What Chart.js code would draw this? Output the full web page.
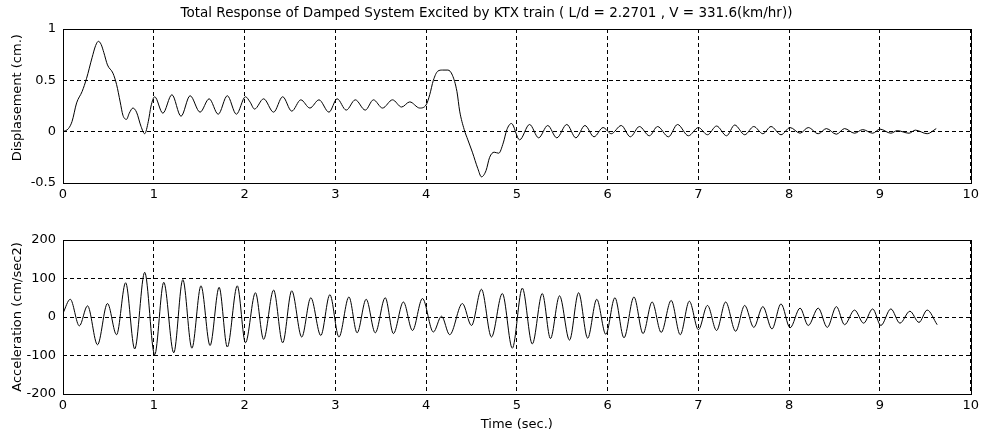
<!DOCTYPE html>
<html>
<head>
<meta charset="utf-8">
<title>KTX train response</title>
<script src="https://cdn.jsdelivr.net/npm/chart.js@4.4.0/dist/chart.umd.min.js"></script>
<style>
	body { margin: 0; background: #fff; }
	#wrap { position: relative; width: 983px; height: 438px; }
	canvas { position: absolute; left: 0; }
	#chart-disp { top: 0; }
	#chart-acc { top: 212px; }
</style>
</head>
<body>
<div id="wrap">
	<canvas id="chart-disp" width="983" height="212"></canvas>
	<canvas id="chart-acc" width="983" height="226"></canvas>
</div>
<script>
// displacement trace (sec, cm)
var dispTime = [
	0.00, 0.06, 0.10, 0.15, 0.21, 0.26, 0.32, 0.36, 0.39, 0.42, 0.45, 0.49, 0.55, 0.59, 0.63, 0.66,
	0.70, 0.73, 0.77, 0.81, 0.86, 0.90, 0.94, 0.97, 1.01, 1.10, 1.20, 1.30, 1.40, 1.51, 1.61, 1.71,
	1.81, 1.91, 2.01, 2.06, 2.11, 2.21, 2.32, 2.42, 2.52, 2.62, 2.72, 2.82, 2.93, 3.02, 3.12, 3.22,
	3.33, 3.42, 3.52, 3.63, 3.73, 3.82, 3.93, 4.00, 4.04, 4.08, 4.13, 4.18, 4.24, 4.29, 4.34, 4.37,
	4.42, 4.46, 4.51, 4.57, 4.61, 4.66, 4.70, 4.75, 4.80, 4.85, 4.89, 4.94, 5.03, 5.14, 5.24, 5.34,
	5.44, 5.55, 5.65, 5.75, 5.85, 5.95, 6.04, 6.15, 6.25, 6.35, 6.46, 6.55, 6.67, 6.77, 6.89, 7.00,
	7.10, 7.20, 7.31, 7.40, 7.51, 7.61, 7.71, 7.80, 7.91, 8.01, 8.12, 8.21, 8.32, 8.41, 8.52, 8.61,
	8.72, 8.81, 8.92, 9.00, 9.12, 9.19, 9.32, 9.39, 9.52, 9.62
];
var dispCm = [
	0.00, 0.03, 0.10, 0.28, 0.39, 0.52, 0.72, 0.84, 0.88, 0.85, 0.77, 0.65, 0.57, 0.46, 0.29, 0.16,
	0.12, 0.18, 0.23, 0.19, 0.05, -0.02, 0.10, 0.25, 0.34, 0.18, 0.36, 0.15, 0.35, 0.19, 0.32, 0.17,
	0.35, 0.17, 0.34, 0.29, 0.22, 0.32, 0.19, 0.34, 0.20, 0.31, 0.23, 0.31, 0.19, 0.32, 0.21, 0.31,
	0.21, 0.31, 0.23, 0.31, 0.24, 0.29, 0.23, 0.26, 0.36, 0.50, 0.59, 0.60, 0.60, 0.55, 0.39, 0.20,
	0.02, -0.08, -0.20, -0.36, -0.44, -0.38, -0.25, -0.20, -0.21, -0.11, 0.02, 0.08, -0.08, 0.07, -0.06, 0.06,
	-0.06, 0.07, -0.06, 0.06, -0.05, 0.04, -0.02, 0.06, -0.05, 0.05, -0.04, 0.05, -0.05, 0.07, -0.04, 0.04,
	-0.03, 0.055, -0.04, 0.065, -0.03, 0.05, -0.02, 0.05, -0.03, 0.04, -0.015, 0.04, -0.02, 0.03, -0.025, 0.03,
	-0.015, 0.02, -0.015, 0.025, -0.015, 0.01, -0.015, 0.015, -0.02, 0.03
];

// acceleration trace (sec, cm/sec2)
var accTime = [
	0.00, 0.08, 0.18, 0.27, 0.38, 0.49, 0.59, 0.69, 0.79, 0.90, 1.01, 1.11, 1.22, 1.32, 1.42, 1.52,
	1.62, 1.72, 1.81, 1.92, 2.01, 2.12, 2.21, 2.32, 2.42, 2.52, 2.63, 2.73, 2.84, 2.94, 3.04, 3.15,
	3.24, 3.34, 3.44, 3.55, 3.64, 3.75, 3.85, 3.96, 4.08, 4.17, 4.26, 4.40, 4.50, 4.61, 4.72, 4.84,
	4.95, 5.06, 5.17, 5.28, 5.37, 5.47, 5.58, 5.68, 5.78, 5.88, 5.98, 6.08, 6.18, 6.29, 6.39, 6.49,
	6.59, 6.70, 6.80, 6.90, 7.00, 7.10, 7.20, 7.30, 7.41, 7.51, 7.61, 7.71, 7.81, 7.91, 8.01, 8.12,
	8.21, 8.32, 8.42, 8.52, 8.61, 8.72, 8.82, 8.92, 9.01, 9.12, 9.22, 9.33, 9.43, 9.52, 9.63
];
var accCmSec2 = [
	10, 46, -23, 29, -72, 35, -46, 89, -83, 116, -98, 90, -93, 97, -81, 81,
	-74, 77, -78, 81, -67, 63, -58, 70, -67, 68, -52, 50, -48, 58, -52, 52,
	-41, 46, -41, 50, -43, 39, -35, 48, -39, 2, -46, 35, -22, 72, -52, 61,
	-81, 75, -70, 61, -56, 55, -60, 63, -55, 46, -45, 50, -54, 52, -43, 39,
	-40, 43, -46, 41, -33, 30, -35, 39, -37, 30, -27, 27, -31, 34, -28, 23,
	-22, 23, -27, 27, -20, 18, -16, 21, -22, 21, -16, 15, -14, 18, -20
];

var timeTicks = [0, 1, 2, 3, 4, 5, 6, 7, 8, 9, 10];
var dispTicks = [-0.5, 0, 0.5, 1];
var accTicks = [-200, -100, 0, 100, 200];

Chart.defaults.font.family = "'DejaVu Sans', Arial, sans-serif";
Chart.defaults.font.size = 13;
Chart.defaults.color = '#000';

// solid frame round the plot area, drawn over the dashed grid
var framePlugin = {
	id: 'frame',
	afterDraw: function (chart)
	{
		var a = chart.chartArea;
		var ctx = chart.ctx;
		ctx.save();
		ctx.strokeStyle = '#000';
		ctx.lineWidth = 1;
		ctx.setLineDash([]);
		ctx.strokeRect(Math.round(a.left) + 0.5, Math.round(a.top) + 0.5,
			Math.round(a.right - a.left), Math.round(a.bottom - a.top));
		ctx.restore();
	}
};

function points(xs, ys)
{
	var out = [];
	for (var i = 0; i < xs.length; i++) {
		out.push({x: xs[i], y: ys[i]});
	}
	return out;
}

function fixedTicks(values)
{
	return function (scale) {
		scale.ticks = values.map(function (v) { return {value: v}; });
	};
}

// plain labels: 1 rather than 1.0
function plainLabel(value)
{
	return String(value);
}

function makeConfig(xs, ys, yTicks, yLabel, opts)
{
	return {
		type: 'line',
		data: {
			datasets: [{
				data: points(xs, ys),
				borderColor: '#000',
				borderWidth: 1,
				pointRadius: 0,
				fill: false,
				cubicInterpolationMode: 'monotone'
			}]
		},
		options: {
			responsive: false,
			animation: false,
			devicePixelRatio: 1,
			layout: {padding: {top: opts.padTop, right: 10, left: 0, bottom: 0}},
			plugins: {
				legend: {display: false},
				tooltip: {enabled: false},
				title: opts.title
			},
			scales: {
				x: {
					type: 'linear',
					min: 0,
					max: 10,
					afterBuildTicks: fixedTicks(timeTicks),
					afterFit: function (s) { s.height = opts.xHeight; },
					grid: {color: '#000', drawTicks: false},
					border: {display: false, dash: [4, 3]},
					ticks: {padding: 4, maxRotation: 0, callback: plainLabel},
					title: opts.xTitle
				},
				y: {
					type: 'linear',
					min: yTicks[0],
					max: yTicks[yTicks.length - 1],
					afterBuildTicks: fixedTicks(yTicks),
					afterFit: function (s) { s.width = 63; },
					grid: {color: '#000', drawTicks: false},
					border: {display: false, dash: [4, 3]},
					ticks: {padding: 7, callback: plainLabel},
					title: {
						display: true,
						text: yLabel,
						font: {size: 13},
						padding: {top: 10, bottom: 0}
					}
				}
			}
		},
		plugins: [framePlugin]
	};
}

new Chart(document.getElementById('chart-disp'), makeConfig(dispTime, dispCm, dispTicks, '    Displasement (cm.)', {
	padTop: 0,
	xHeight: 29,
	title: {
		display: true,
		text: 'Total Response of Damped System Excited by KTX train ( L/d = 2.2701 , V = 331.6(km/hr))',
		font: {size: 13.5, weight: 'normal', lineHeight: 1.2},
		padding: {top: 5.5, bottom: 7.3}
	},
	xTitle: {display: false}
}));

new Chart(document.getElementById('chart-acc'), makeConfig(accTime, accCmSec2, accTicks, 'Acceleration (cm/sec2)', {
	padTop: 28,
	xHeight: 44,
	title: {display: false},
	xTitle: {
		display: true,
		text: 'Time (sec.)',
		font: {size: 13},
		padding: {top: 0, bottom: 6}
	}
}));
</script>
</body>
</html>
